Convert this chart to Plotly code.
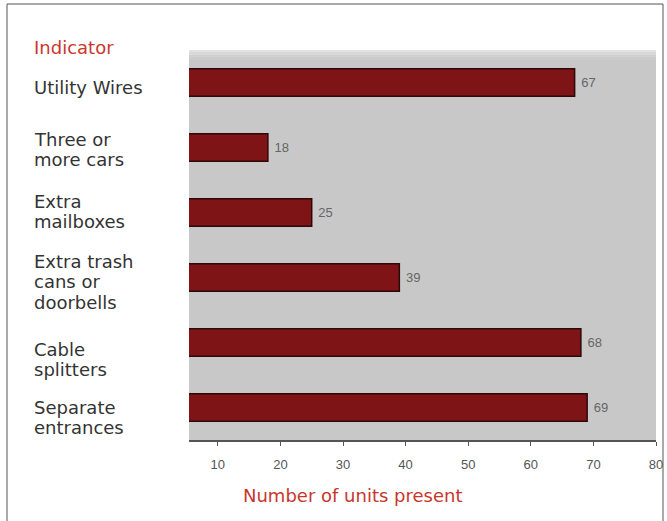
import plotly.graph_objects as go

categories = ["Utility Wires", "Three or<br>more cars", "Extra<br>mailboxes",
              "Extra trash<br>cans or<br>doorbells", "Cable<br>splitters", "Separate<br>entrances"]
values = [67, 18, 25, 39, 68, 69]
tick_vals = [10, 20, 30, 40, 50, 60, 70, 80]

W, H = 667, 521
L, R, T, B = 189, 11, 50, 81
PW, PH = W - L - R, H - T - B

# layout tweak: vertical offset (px, downward) of each label block from its bar centre
label_offsets = [4, 1, -2, 3, 16, 9]
LINE_GAP = 20.5

fig = go.Figure()
fig.add_trace(go.Bar(
    y=list(range(len(categories))), x=values, orientation="h", width=0.42,
    base=0,
    marker=dict(color="#7e1416", line=dict(color="#2e0808", width=1.5)),
    text=[" " + str(v) for v in values], textposition="outside",
    textfont=dict(family="Liberation Sans, Arial", size=13, color="#666666"),
    cliponaxis=False,
))

annotations = []
for i, c in enumerate(categories):
    lines = c.split("<br>")
    n = len(lines)
    for j, ln in enumerate(lines):
        annotations.append(dict(
            x=(33 - L) / PW, xref="paper", xanchor="left",
            y=i, yref="y", yanchor="middle",
            yshift=-(label_offsets[i] + (j - (n - 1) / 2) * LINE_GAP) - 1,
            text=ln, showarrow=False, align="left", borderpad=0,
            font=dict(family="DejaVu Sans", size=18, color="#333333"),
        ))
annotations.append(dict(
    x=(33 - L) / PW, xref="paper", xanchor="left",
    y=(H - B - 47) / PH, yref="paper", yanchor="middle", borderpad=0,
    text="Indicator", showarrow=False,
    font=dict(family="DejaVu Sans", size=18, color="#c8372d"),
))
annotations.append(dict(
    x=(353 - L) / PW, xref="paper", xanchor="center",
    y=(H - B - 495) / PH, yref="paper", yanchor="middle", borderpad=0,
    text="Number of units present", showarrow=False,
    font=dict(family="DejaVu Sans", size=18, color="#c8372d"),
))

shapes = [dict(
    type="rect", xref="paper", yref="paper",
    x0=(7 - L) / PW, x1=(663 - L) / PW,
    y0=(H - B - 522) / PH, y1=(H - B - 4) / PH,
    line=dict(color="#555555", width=1), fillcolor="rgba(0,0,0,0)", layer="below",
)]
# light top fade of the plot background
for k, col in enumerate(["#e2e2e2", "#d9d9d9", "#d1d1d1", "#cbcbcb"]):
    shapes.append(dict(
        type="rect", xref="paper", yref="paper", x0=0, x1=1,
        y0=1 - (k + 1) * 2.5 / PH, y1=1 - k * 2.5 / PH,
        line=dict(width=0), fillcolor=col, layer="below",
    ))

fig.update_layout(
    width=W, height=H, autosize=False,
    margin=dict(l=L, r=R, t=T, b=B, autoexpand=False),
    paper_bgcolor="white", plot_bgcolor="#c8c8c8",
    showlegend=False,
    annotations=annotations, shapes=shapes,
    xaxis=dict(range=[5.4, 80], tickvals=tick_vals, showgrid=False, zeroline=False,
               automargin=False,
               showline=True, linecolor="#555555", linewidth=1.5,
               ticks="outside", ticklen=4, tickcolor="#555555",
               ticklabelstandoff=8,
               tickfont=dict(family="Liberation Sans, Arial", size=13, color="#555555")),
    yaxis=dict(range=[len(categories) - 0.5, -0.5], showticklabels=False, automargin=False,
               showgrid=False, zeroline=False, showline=False, ticks=""),
)

fig.write_html("out.html", config={"responsive": False, "displayModeBar": False},
               post_script="document.body.style.margin='0';document.body.style.overflow='hidden';")
